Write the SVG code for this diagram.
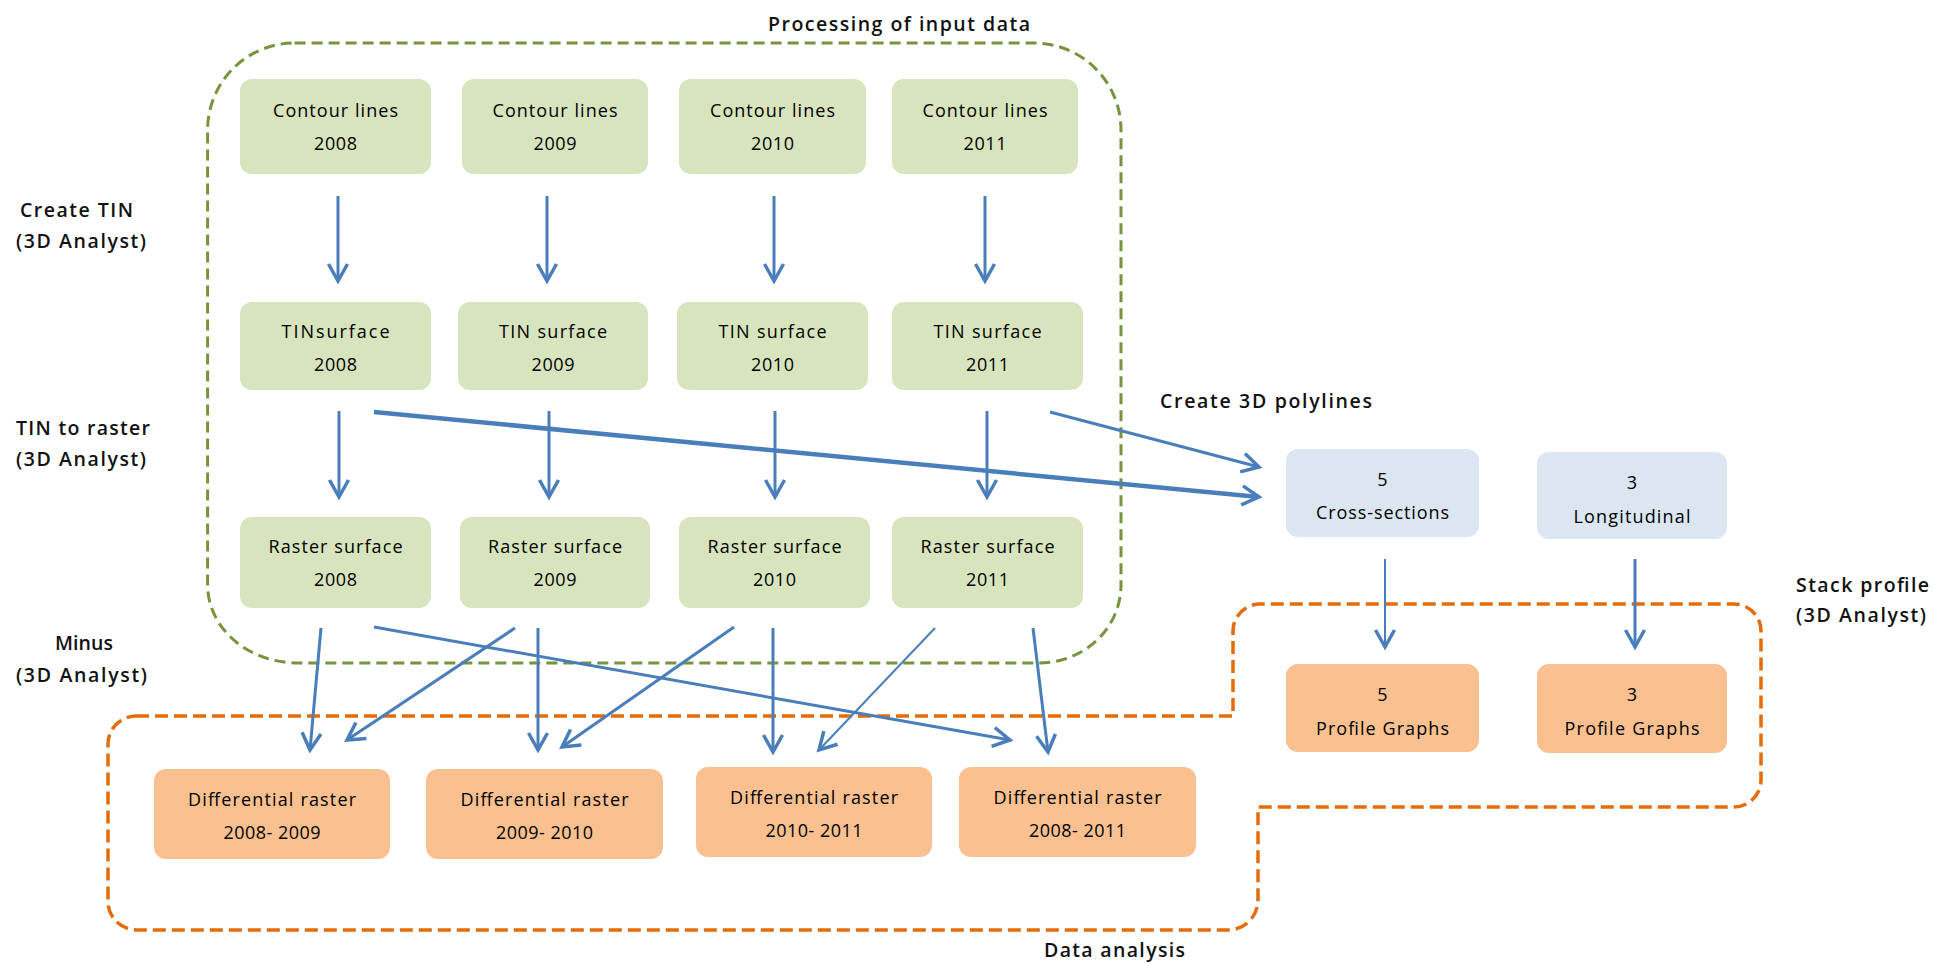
<svg xmlns="http://www.w3.org/2000/svg" width="1933" height="963" viewBox="0 0 1933 963">
<style>
text { font-family: "Open Sans", "Liberation Sans", sans-serif; fill: #000000; }
.bt { font-size: 18px; text-anchor: middle; }
.lb { font-size: 19.5px; font-weight: 600; fill: #111111; }
.g { fill: #D7E4BD; }
.b { fill: #DCE6F2; }
.o { fill: #FAC090; }
.ln { fill: none; stroke: #4A7EBB; stroke-width: 3; marker-end: url(#ah); }
.thin { stroke-width: 2; }
.thick { stroke-width: 4.5; }
</style>
<defs>
<marker id="ah" markerUnits="userSpaceOnUse" viewBox="-22 -13 26 26" markerWidth="26" markerHeight="26" refX="0" refY="0" orient="auto" overflow="visible">
<path d="M -17,-9.5 L 0,0 L -17,9.5" fill="none" stroke="#4A7EBB" stroke-width="3.5" stroke-linejoin="miter"/>
</marker>
</defs>

<g id="group-processing">
<path d="M 294.6,43 L 1034,43 A 87,87 0 0 1 1121,130 L 1121,585 A 82,78 0 0 1 1039,663 L 298,663 A 90,78 0 0 1 207.6,585 L 207.6,130 A 87,87 0 0 1 294.6,43 Z" fill="none" stroke="#77933C" stroke-width="3" stroke-dasharray="11 6"/>
<text class="lb" x="768" y="31" textLength="262">Processing of input data</text>
</g>
<g id="group-analysis">
<path d="M 136,716 L 1233,716 L 1233,631 A 27,27 0 0 1 1260,604 L 1734,604 A 27,27 0 0 1 1761,631 L 1761,780 A 27,27 0 0 1 1734,807 L 1258,807 L 1258,900 A 30,30 0 0 1 1228,930 L 137,930 A 29,28 0 0 1 108,902 L 108,744 A 28,28 0 0 1 136,716 Z" fill="none" stroke="#E46C0A" stroke-width="3.5" stroke-dasharray="13 6"/>
<text class="lb" x="1044" y="957" textLength="141">Data analysis</text>
</g>

<g id="labels">
<text class="lb" x="20" y="217" textLength="113">Create TIN</text>
<text class="lb" x="16" y="248" textLength="130">(3D Analyst)</text>
<text class="lb" x="16" y="435" textLength="134">TIN to raster</text>
<text class="lb" x="16" y="466" textLength="130">(3D Analyst)</text>
<text class="lb" x="84" y="650" text-anchor="middle" textLength="58">Minus</text>
<text class="lb" x="16" y="682" textLength="131">(3D Analyst)</text>
<text class="lb" x="1160" y="408" textLength="212">Create 3D polylines</text>
<text class="lb" x="1796" y="592" textLength="133">Stack profile</text>
<text class="lb" x="1796" y="622" textLength="130">(3D Analyst)</text>
</g>

<g id="contour-2008"><rect class="g" x="240" y="79" width="191" height="95" rx="12"/><text class="bt" x="335.5" y="117" textLength="125">Contour lines</text><text class="bt" x="335.5" y="150" textLength="43">2008</text></g>
<g id="contour-2009"><rect class="g" x="462" y="79" width="186" height="95" rx="12"/><text class="bt" x="555" y="117" textLength="125">Contour lines</text><text class="bt" x="555" y="150" textLength="43">2009</text></g>
<g id="contour-2010"><rect class="g" x="679" y="79" width="187" height="95" rx="12"/><text class="bt" x="772.5" y="117" textLength="125">Contour lines</text><text class="bt" x="772.5" y="150" textLength="43">2010</text></g>
<g id="contour-2011"><rect class="g" x="892" y="79" width="186" height="95" rx="12"/><text class="bt" x="985" y="117" textLength="125">Contour lines</text><text class="bt" x="985" y="150" textLength="43">2011</text></g>

<g id="tin-2008"><rect class="g" x="240" y="302" width="191" height="88" rx="12"/><text class="bt" x="335.5" y="338" textLength="108">TINsurface</text><text class="bt" x="335.5" y="371" textLength="43">2008</text></g>
<g id="tin-2009"><rect class="g" x="458" y="302" width="190" height="88" rx="12"/><text class="bt" x="553" y="338" textLength="108">TIN surface</text><text class="bt" x="553" y="371" textLength="43">2009</text></g>
<g id="tin-2010"><rect class="g" x="677" y="302" width="191" height="88" rx="12"/><text class="bt" x="772.5" y="338" textLength="108">TIN surface</text><text class="bt" x="772.5" y="371" textLength="43">2010</text></g>
<g id="tin-2011"><rect class="g" x="892" y="302" width="191" height="88" rx="12"/><text class="bt" x="987.5" y="338" textLength="108">TIN surface</text><text class="bt" x="987.5" y="371" textLength="43">2011</text></g>

<g id="raster-2008"><rect class="g" x="240" y="517" width="191" height="91" rx="12"/><text class="bt" x="335.5" y="553" textLength="134">Raster surface</text><text class="bt" x="335.5" y="586" textLength="43">2008</text></g>
<g id="raster-2009"><rect class="g" x="460" y="517" width="190" height="91" rx="12"/><text class="bt" x="555" y="553" textLength="134">Raster surface</text><text class="bt" x="555" y="586" textLength="43">2009</text></g>
<g id="raster-2010"><rect class="g" x="679" y="517" width="191" height="91" rx="12"/><text class="bt" x="774.5" y="553" textLength="134">Raster surface</text><text class="bt" x="774.5" y="586" textLength="43">2010</text></g>
<g id="raster-2011"><rect class="g" x="892" y="517" width="191" height="91" rx="12"/><text class="bt" x="987.5" y="553" textLength="134">Raster surface</text><text class="bt" x="987.5" y="586" textLength="43">2011</text></g>

<g id="diff-2008-2009"><rect class="o" x="154" y="769" width="236" height="90" rx="12"/><text class="bt" x="272" y="806" textLength="168">Differential raster</text><text class="bt" x="272" y="839" textLength="97">2008- 2009</text></g>
<g id="diff-2009-2010"><rect class="o" x="426" y="769" width="237" height="90" rx="12"/><text class="bt" x="544.5" y="806" textLength="168">Differential raster</text><text class="bt" x="544.5" y="839" textLength="97">2009- 2010</text></g>
<g id="diff-2010-2011"><rect class="o" x="696" y="767" width="236" height="90" rx="12"/><text class="bt" x="814" y="804" textLength="168">Differential raster</text><text class="bt" x="814" y="837" textLength="97">2010- 2011</text></g>
<g id="diff-2008-2011"><rect class="o" x="959" y="767" width="237" height="90" rx="12"/><text class="bt" x="1077.5" y="804" textLength="168">Differential raster</text><text class="bt" x="1077.5" y="837" textLength="97">2008- 2011</text></g>

<g id="cross-sections"><rect class="b" x="1286" y="449" width="193" height="88" rx="12"/><text class="bt" x="1382.5" y="486">5</text><text class="bt" x="1382.5" y="519" textLength="133">Cross-sections</text></g>
<g id="longitudinal"><rect class="b" x="1537" y="452" width="190" height="87" rx="12"/><text class="bt" x="1632" y="489">3</text><text class="bt" x="1632" y="523" textLength="117">Longitudinal</text></g>
<g id="profile-5"><rect class="o" x="1286" y="664" width="193" height="88" rx="12"/><text class="bt" x="1382.5" y="701">5</text><text class="bt" x="1382.5" y="735" textLength="133">Profile Graphs</text></g>
<g id="profile-3"><rect class="o" x="1537" y="664" width="190" height="89" rx="12"/><text class="bt" x="1632" y="701">3</text><text class="bt" x="1632" y="735" textLength="135">Profile Graphs</text></g>

<g id="connectors">
<line class="ln" x1="338" y1="196" x2="338" y2="281"/>
<line class="ln" x1="547" y1="196" x2="547" y2="281"/>
<line class="ln" x1="774" y1="196" x2="774" y2="281"/>
<line class="ln" x1="985" y1="196" x2="985" y2="281"/>
<line class="ln" x1="339" y1="411" x2="339" y2="497"/>
<line class="ln" x1="549" y1="411" x2="549" y2="497"/>
<line class="ln" x1="775" y1="411" x2="775" y2="497"/>
<line class="ln" x1="987" y1="411" x2="987" y2="497"/>
<line class="ln thick" x1="374" y1="412" x2="1259" y2="497"/>
<line class="ln" x1="1050" y1="412" x2="1259" y2="467"/>
<line class="ln thin" x1="1385" y1="559" x2="1385" y2="647"/>
<line class="ln" x1="1635" y1="559" x2="1635" y2="647"/>
<line class="ln" x1="321" y1="628" x2="310" y2="750"/>
<line class="ln" x1="515" y1="628" x2="347" y2="740"/>
<line class="ln" x1="374" y1="627" x2="1010" y2="740"/>
<line class="ln" x1="538" y1="628" x2="538" y2="750"/>
<line class="ln" x1="734" y1="627" x2="562" y2="747"/>
<line class="ln" x1="773" y1="628" x2="773" y2="752"/>
<line class="ln thin" x1="935" y1="628" x2="819" y2="750"/>
<line class="ln" x1="1033" y1="628" x2="1048" y2="752"/>
</g>
</svg>
